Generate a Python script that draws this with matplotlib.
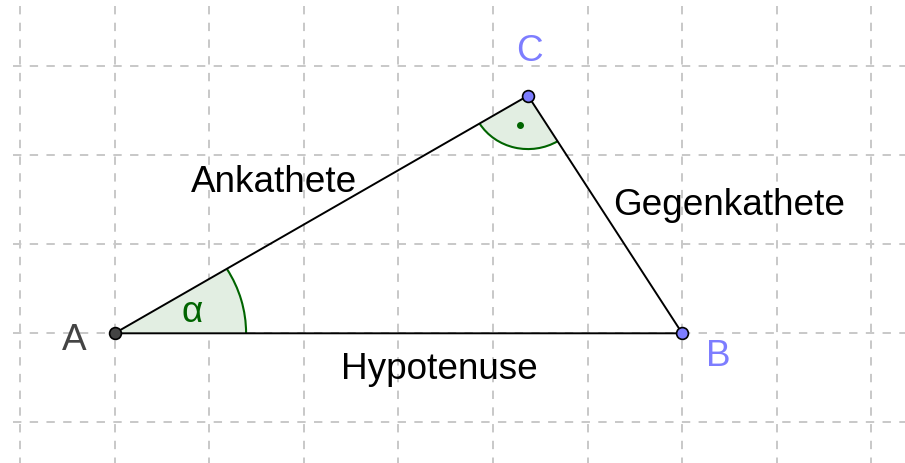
import numpy as np
import matplotlib
matplotlib.use("Agg")
import matplotlib.pyplot as plt
from matplotlib.patches import Wedge, Arc

# ---- data ----
vertex_names = ["A", "B", "C"]
vertex_x = [1.0, 7.0, 5.37]
vertex_y = [0.0, 0.0, 2.67]
side_labels = ["Ankathete", "Gegenkathete", "Hypotenuse"]
angle_label = "α"
grid_x = list(range(0, 10))
grid_y = list(range(-1, 4))

# ---- figure ----
W, H = 905, 464
fig = plt.figure(figsize=(W / 100, H / 100), dpi=100)
ax = fig.add_axes([0, 0, 1, 1])
X0, SX, Y0, SY = 20.0, 94.6, 334.3, 89.0


def px(xp, yp):
    return (xp - X0) / SX, (Y0 - yp) / SY


xl = (px(0, 0)[0], px(W, 0)[0])
yl = (px(0, H)[1], px(0, 0)[1])
ax.set_xlim(*xl)
ax.set_ylim(*yl)
ax.axis("off")

gcol = "#c8c8c8"
glw = 1.4
dash = (0, (4.3, 4.3))
gx_start = px(12.7, 0)[0]
gy_start = px(0, 7)[1]
for gx in grid_x:
    ax.plot([gx, gx], [gy_start, yl[0]], color=gcol, lw=glw, ls=dash,
            dash_capstyle="butt", zorder=0)
for gy in grid_y:
    ax.plot([gx_start, xl[1]], [gy, gy], color=gcol, lw=glw, ls=dash,
            dash_capstyle="butt", zorder=0)

A = np.array([vertex_x[0], vertex_y[0]])
B = np.array([vertex_x[1], vertex_y[1]])
C = np.array([vertex_x[2], vertex_y[2]])

green = "#006400"
fillc = "#e2eee2"

# angle alpha at A
a1 = 0.0
a2 = np.degrees(np.arctan2(C[1] - A[1], C[0] - A[0]))
r_a = 1.39
ax.add_patch(Wedge(A, r_a, a1, a2, facecolor=fillc, edgecolor="none", zorder=1))
ax.add_patch(Arc(A, 2 * r_a, 2 * r_a, theta1=a1, theta2=a2, color=green, lw=1.5, zorder=2))

# right angle at C
c1 = np.degrees(np.arctan2(A[1] - C[1], A[0] - C[0]))
c2 = np.degrees(np.arctan2(B[1] - C[1], B[0] - C[0]))
r_c = 0.6
ax.add_patch(Wedge(C, r_c, c1, c2, facecolor=fillc, edgecolor="none", zorder=1))
ax.add_patch(Arc(C, 2 * r_c, 2 * r_c, theta1=c1, theta2=c2, color=green, lw=1.5, zorder=2))
mid = np.radians((c1 + c2) / 2)
ax.plot(C[0] + 0.34 * np.cos(mid), C[1] + 0.34 * np.sin(mid), "o", color=green, ms=4, zorder=3)

# triangle sides
tx = vertex_x + [vertex_x[0]]
ty = vertex_y + [vertex_y[0]]
ax.plot(tx, ty, color="black", lw=1.4, zorder=4)

# vertices
pcol = ["#444444", "#7d7dff", "#7d7dff"]
for i in range(3):
    ax.plot(vertex_x[i], vertex_y[i], "o", ms=8.5, mfc=pcol[i], mec="black", mew=1.2, zorder=5)

font = dict(family=["Liberation Sans", "DejaVu Sans"], fontsize=26.6)
lab_col = ["#444444", "#7d7dff", "#7d7dff"]
lab_pos = [(62, 350.3), (706, 366), (516, 61)]
for i in range(3):
    ax.text(*px(*lab_pos[i]), vertex_names[i], color=lab_col[i], ha="left", va="baseline", **font)

side_pos = [(191, 192), (613, 215), (341, 378.7)]
for s, p in zip(side_labels, side_pos):
    ax.text(*px(*p), s, color="black", ha="left", va="baseline", **font)

ax.text(*px(181, 322), angle_label, color=green, ha="left", va="baseline", **font)

fig.savefig("out.png", dpi=100)
